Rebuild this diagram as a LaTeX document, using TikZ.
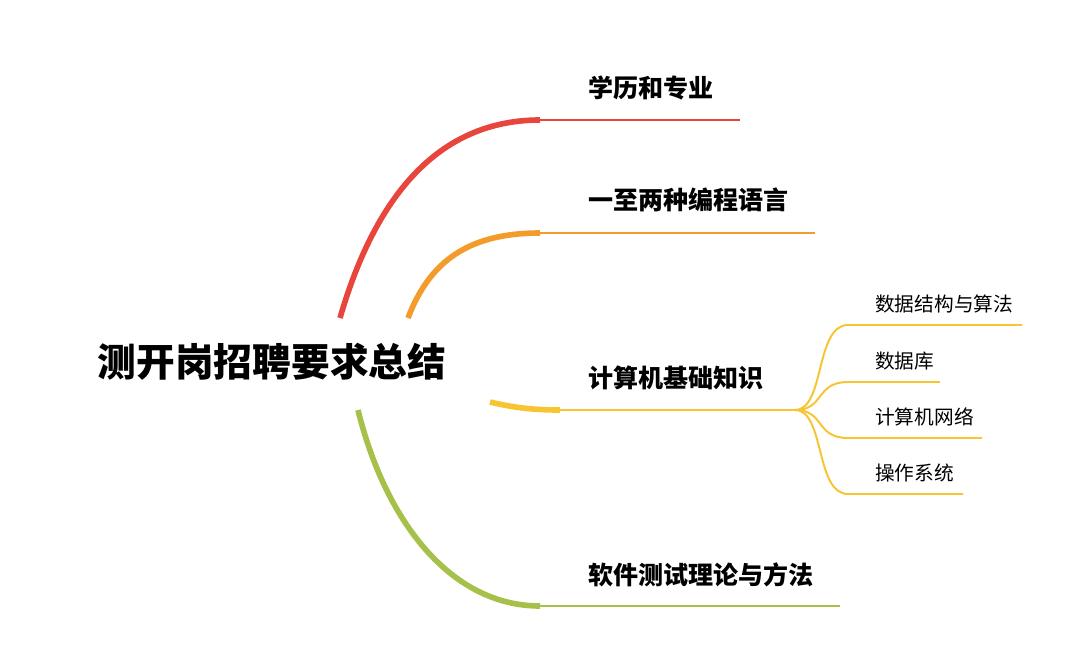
\documentclass[tikz,border=0pt]{standalone}
\usepackage{fontspec}
\newfontfamily\cjk{Noto Sans CJK SC}
\definecolor{cred}{HTML}{E8453C}
\definecolor{corange}{HTML}{F39C2B}
\definecolor{cyellow}{HTML}{F7C531}
\definecolor{cgreen}{HTML}{A5C14A}
\tikzset{
  topic/.style={anchor=west, inner sep=0pt, font=\cjk\bfseries\fontsize{17.8}{20}\selectfont},
  sub/.style={anchor=west, inner sep=0pt, font=\cjk\fontsize{14}{16}\selectfont},
  trunk/.style={line width=4pt},
  twig/.style={line width=1.5pt}
}
\begin{document}
\begin{tikzpicture}[x=0.025cm, y=-0.025cm]
\useasboundingbox (0,0) rectangle (1080,666);
\node[anchor=center, inner sep=0pt, font=\cjk\bfseries\fontsize{27.5}{30}\selectfont] (root) at (272,362) {测开岗招聘要求总结};

% main topics
\node[topic] (edu) at (588,88) {学历和专业};
\node[topic] (lang) at (588,200) {一至两种编程语言};
\node[topic] (cs) at (588,378) {计算机基础知识};
\node[topic] (test) at (588,575) {软件测试理论与方法};

\coordinate (e0) at (340,318); \coordinate (e1) at (540,120); \coordinate (e2) at (740,120);
\coordinate (l0) at (408,318); \coordinate (l1) at (540,233); \coordinate (l2) at (815,233);
\coordinate (c0) at (490,402); \coordinate (c1) at (560,410); \coordinate (c2) at (795,410);
\coordinate (t0) at (358,410); \coordinate (t1) at (540,606); \coordinate (t2) at (840,606);

\draw[cred, trunk] (e0) .. controls (380,180) and (450,120) .. (e1);
\draw[cred, twig] (e1) -- (e2);
\draw[corange, trunk] (l0) .. controls (430,260) and (470,233) .. (l1);
\draw[corange, twig] (l1) -- (l2);
\draw[cyellow, trunk] (c0) .. controls (515,408) and (535,410) .. (c1);
\draw[cyellow, twig] (c1) -- (c2);
\draw[cgreen, trunk] (t0) .. controls (385,520) and (450,606) .. (t1);
\draw[cgreen, twig] (t1) -- (t2);

% sub topics
\foreach \name/\y/\len/\txt in {ds/325/1022/数据结构与算法, db/382/940/数据库, net/438/982/计算机网络, os/494/963/操作系统}{
  \node[sub] (\name) at (875,\y-21) {\txt};
  \draw[cyellow, line width=1.4pt] (c2) .. controls (825,410) and (815,\y) .. (848,\y) -- (\len,\y);
}
\end{tikzpicture}
\end{document}
